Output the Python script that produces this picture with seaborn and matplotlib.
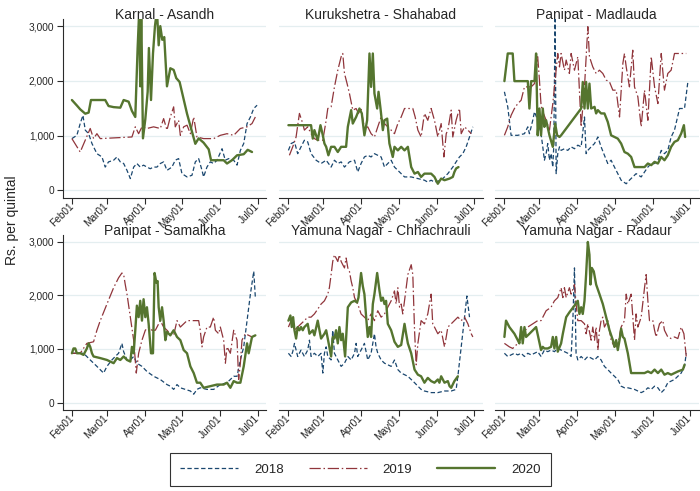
import matplotlib
matplotlib.use("Agg")
import matplotlib.pyplot as plt
from matplotlib.lines import Line2D
import seaborn as sns
import pandas as pd

# ---------------- data (days since Feb 01, price in Rs. per quintal) ----------------
tick_days = [0, 28, 59, 89, 120, 150]
tick_labels = ["Feb01", "Mar01", "Apr01", "May01", "Jun01", "Jul01"]
ytick_vals = [0, 1000, 2000, 3000]
ytick_labels = ["0", "1,000", "2,000", "3,000"]
years = ["2018", "2019", "2020"]
titles = ["Karnal - Asandh", "Kurukshetra - Shahabad", "Panipat - Madlauda",
          "Panipat - Samalkha", "Yamuna Nagar - Chhachrauli", "Yamuna Nagar - Radaur"]

# Karnal - Asandh
asandh_2018_day = [0, 4, 6.7, 8.9, 10.8, 13.5, 16.2, 20.2, 24.3, 26.9, 29.6, 33.7, 36.4, 39.1, 41.8, 44.5, 47.2, 49.9, 52.5, 55.2, 57.9, 60.6, 63.3, 66, 68.7, 71.4, 74.1, 76.8, 80.8, 83.5, 86.2, 88.9, 93, 97, 99.7, 102.4, 105.1, 106.4, 109.1, 111.8, 114.5, 117.2, 121.3, 123.9, 126.7, 130.7, 133.4, 136.1, 138.8, 141.5, 144.2, 146.9, 149.6]
asandh_2018_val = [945, 1005, 1220, 1370, 1100, 1035, 855, 670, 610, 425, 520, 550, 610, 520, 490, 365, 215, 425, 490, 425, 460, 425, 395, 425, 425, 490, 520, 365, 425, 550, 580, 305, 245, 275, 520, 580, 365, 245, 425, 520, 490, 550, 760, 550, 580, 550, 460, 730, 855, 1220, 1340, 1495, 1555]
asandh_2019_day = [0, 6.7, 14.8, 17.5, 20.2, 22.9, 48.5, 51.2, 53.9, 56.6, 60.6, 66, 71.4, 74.1, 76.8, 79.5, 82.2, 83.5, 86.2, 87.6, 90.3, 93, 95.7, 98.4, 101, 106.4, 114.5, 119.9, 125.3, 130.7, 136.1, 141.5, 145.5, 148.2]
asandh_2019_val = [945, 700, 1130, 945, 1035, 945, 975, 1160, 1035, 1160, 1130, 1160, 1130, 1310, 1100, 1340, 1525, 1160, 1280, 1005, 1160, 1190, 1035, 1340, 975, 945, 945, 1005, 1035, 1005, 1130, 1160, 1220, 1340]
asandh_2020_day = [0, 4, 6.7, 10.8, 13.5, 15.4, 26.9, 29.6, 33.7, 39.1, 41.8, 45.8, 48.5, 51.2, 53.1, 54.4, 55.2, 56, 57.4, 59.3, 61.2, 62.2, 63.9, 65.5, 67.1, 68.7, 70.1, 71.4, 73, 74.6, 76.8, 79.5, 82.2, 84.3, 87, 93, 99.7, 102.4, 106.4, 110.5, 112.4, 122.6, 125.3, 129.3, 133.4, 138.8, 142, 145.5]
asandh_2020_val = [1650, 1550, 1480, 1400, 1420, 1650, 1650, 1540, 1520, 1510, 1650, 1620, 1450, 1340, 2600, 3300, 1900, 3300, 950, 1300, 1800, 2600, 1650, 2500, 3000, 3300, 2650, 3000, 2750, 2800, 1900, 2230, 2200, 2050, 1980, 1400, 850, 950, 870, 750, 550, 550, 490, 550, 640, 660, 740, 700]

# Kurukshetra - Shahabad
shahabad_2018_day = [0, 2.2, 4.9, 7.5, 10.2, 12.9, 15.6, 18.3, 22.4, 26.4, 30.5, 34.5, 37.2, 39.9, 42.6, 45.3, 49.3, 53.4, 56, 58.7, 61.4, 64.1, 66.8, 69.5, 72.2, 74.9, 77.6, 80.3, 83, 85.7, 88.4, 91.1, 93.8, 99.2, 104.6, 109.9, 112.6, 115.3, 118, 123.4, 126.1, 128.8, 132.8, 135.5, 138.2, 140.9, 143.6, 146.3, 149]
shahabad_2018_val = [730, 855, 885, 670, 795, 915, 885, 670, 550, 490, 550, 425, 550, 490, 520, 425, 520, 550, 335, 490, 610, 640, 610, 670, 640, 610, 425, 490, 550, 425, 365, 305, 245, 245, 215, 185, 150, 185, 150, 185, 245, 305, 425, 520, 610, 670, 795, 975, 1160]
shahabad_2019_day = [0.8, 3.5, 6.2, 8.9, 11.6, 12.9, 15.6, 18.3, 21, 23.7, 27.8, 30.5, 31.8, 34.5, 37.2, 39.9, 42.6, 43.9, 45.3, 47.4, 49.3, 52, 54.7, 56.6, 58.7, 61.4, 64.1, 66.8, 69.5, 72.2, 74.9, 77.6, 80.3, 83, 85.7, 88.4, 91.1, 93.8, 96.5, 100.5, 102.4, 104.6, 107.2, 109.9, 112.6, 115.3, 118, 120.7, 123.4, 125.6, 127.5, 128.8, 131.5, 132.8, 135.5, 138.2, 139.6, 142.3, 145, 147.7]
shahabad_2019_val = [640, 795, 975, 1405, 1220, 1100, 1160, 1035, 945, 915, 915, 1280, 1495, 1525, 1890, 2195, 2440, 2500, 2135, 1950, 1770, 1465, 1495, 1405, 1495, 1130, 1160, 1035, 975, 1160, 1340, 1220, 1160, 1100, 1035, 1220, 1340, 1495, 1495, 1495, 1340, 1100, 975, 1405, 1280, 1495, 1280, 975, 1220, 610, 1035, 1100, 1465, 975, 1280, 1495, 1035, 1160, 1100, 1035]
shahabad_2020_day = [0, 18.3, 19.7, 21, 23.7, 25.9, 27.8, 29.1, 30.5, 32.3, 34.5, 37.2, 39.9, 42.6, 46.6, 48, 50.7, 52, 54.7, 57.4, 59.3, 61.4, 63.6, 65.5, 66.8, 68.2, 69.5, 71.7, 72.8, 74.4, 76.3, 77.6, 79.8, 81.6, 84.3, 85.7, 88.4, 91.1, 93.8, 96.5, 99.2, 101.9, 104.6, 107.2, 109.9, 115.3, 118, 120.7, 123.4, 126.1, 130.2, 132.8, 134.1, 135.5, 137.4]
shahabad_2020_val = [1190, 1190, 945, 1100, 915, 1190, 1005, 855, 795, 640, 795, 795, 700, 795, 795, 1160, 1465, 1220, 1340, 1495, 1405, 1005, 1280, 2500, 1890, 2500, 1770, 1495, 1800, 1495, 1100, 1280, 1310, 855, 610, 795, 730, 795, 730, 795, 425, 305, 335, 245, 305, 305, 245, 120, 215, 185, 215, 245, 335, 400, 425]

# Panipat - Madlauda
madlauda_2018_day = [0, 2.7, 4, 5.4, 10.8, 16.2, 18.9, 20.2, 22.9, 24.3, 26.9, 29.6, 31, 32.3, 33.7, 35, 36.4, 37.7, 39.1, 39.9, 41, 41.8, 43.1, 44.5, 45.8, 48.5, 51.2, 53.9, 56.6, 59.3, 62, 64.7, 66, 67.4, 70.1, 72.8, 75.5, 78.1, 80.8, 83.5, 86.2, 88.9, 91.6, 94.3, 98.4, 101, 103.7, 106.4, 110.5, 113.2, 115.9, 118.6, 121.3, 124, 126.7, 129.3, 132, 134.7, 137.4, 141.5, 145.5, 148.2]
madlauda_2018_val = [1800, 1525, 1280, 1005, 1005, 1035, 1160, 1035, 1280, 1435, 1280, 1035, 795, 550, 670, 855, 550, 670, 425, 825, 3300, 305, 670, 795, 730, 760, 730, 795, 760, 825, 795, 1340, 670, 730, 795, 855, 975, 795, 640, 490, 550, 425, 305, 185, 120, 185, 245, 305, 245, 335, 425, 490, 490, 550, 730, 670, 730, 975, 1100, 1495, 1495, 1980]
madlauda_2019_day = [0, 2.7, 5.4, 8.1, 10.8, 13.5, 16.2, 18.9, 21.6, 24.3, 26.9, 28.3, 29.6, 31, 33.7, 36.4, 39.1, 41, 43.1, 44.5, 45.8, 48.5, 49.9, 52.5, 53.9, 56.6, 59.3, 62, 64.7, 67.4, 68.7, 71.4, 74.1, 76.8, 79.5, 82.2, 84.9, 87.6, 90.3, 93, 95.7, 97, 98.4, 101, 103.7, 105.1, 107.8, 110.5, 113.2, 115.9, 118.6, 121.3, 124, 126.7, 129.3, 132, 134.7, 137.4, 142.8, 146.9]
madlauda_2019_val = [1005, 1160, 1370, 1495, 1585, 1645, 1890, 1890, 1890, 1950, 2440, 2015, 1555, 1435, 1280, 1100, 1585, 2015, 2500, 2255, 2500, 2195, 2380, 2135, 2500, 2195, 2440, 1160, 1890, 2990, 2440, 2255, 2135, 2195, 2135, 2015, 1980, 1830, 1830, 1340, 2320, 2500, 2255, 1890, 2560, 1890, 1710, 1160, 1830, 1280, 2440, 1890, 1585, 2500, 1830, 2135, 2195, 2500, 2500, 2500]
madlauda_2020_day = [0, 2.7, 6.7, 8.1, 18.9, 20.2, 21.6, 24.3, 25.6, 26.9, 28.3, 29.6, 31, 32.3, 33.7, 36.4, 39.1, 41, 42.6, 44.5, 45.8, 62, 63.3, 64.7, 66, 67.4, 68.7, 70.1, 72.8, 74.1, 75.5, 78.1, 80.8, 83.5, 86.2, 88.9, 91.6, 94.3, 97, 99.7, 102.4, 105.1, 110.5, 113.2, 115.9, 118.6, 121.3, 124, 126.7, 129.3, 132, 134.7, 137.4, 140.1, 142.8, 145, 146]
madlauda_2020_val = [1995, 2500, 2500, 1995, 1995, 1495, 1995, 1995, 2500, 1005, 1495, 1005, 1495, 1160, 1280, 1005, 795, 1220, 1005, 975, 1005, 1495, 1980, 1495, 1980, 1495, 1950, 1495, 1525, 1405, 1465, 1405, 1405, 1250, 1005, 975, 945, 855, 700, 670, 610, 425, 425, 425, 490, 460, 520, 490, 610, 550, 640, 795, 885, 915, 1035, 1190, 975]

# Panipat - Samalkha
samalkha_2018_day = [0, 4, 9.4, 14.8, 20.2, 25.6, 28.3, 32.3, 35, 37.7, 40.4, 41.8, 44.5, 47.2, 49.9, 52.5, 56.6, 60.6, 66, 71.4, 76.8, 79.5, 82.2, 84.9, 87.6, 91.6, 95.7, 98.4, 101, 103.7, 109.1, 114.5, 119.9, 125.3, 130.7, 133.4, 136.1, 138.8, 141.5, 144.2, 146.9, 148.2]
samalkha_2018_val = [920, 920, 920, 795, 675, 550, 675, 795, 860, 920, 1105, 950, 795, 795, 860, 735, 675, 580, 490, 430, 335, 305, 245, 335, 275, 245, 215, 155, 245, 275, 245, 245, 335, 370, 490, 490, 795, 1040, 1530, 2025, 2450, 1960]
samalkha_2019_day = [0, 6.7, 12.1, 17.5, 20.2, 22.9, 28.3, 33.7, 37.7, 40.4, 41.8, 43.1, 44.5, 47.2, 49.9, 52, 53.9, 56.6, 59.3, 62, 64.7, 67.4, 70.1, 71.4, 74.1, 76.8, 79.5, 82.2, 84.9, 87.6, 93, 98.4, 102.4, 103.7, 105.1, 106.4, 109.1, 111.8, 114.5, 115.9, 118.6, 119.9, 122.6, 124, 125.3, 128, 130.7, 133.4, 134.7, 136.1, 137.4, 140.1, 142.8, 145.5]
samalkha_2019_val = [920, 920, 1105, 1135, 1350, 1530, 1840, 2145, 2330, 2420, 2390, 2205, 2025, 1595, 1165, 550, 920, 1165, 1350, 1410, 1350, 1350, 1470, 1530, 1410, 1350, 1285, 1255, 1530, 1410, 1530, 1530, 1530, 1350, 1040, 1225, 1410, 1410, 1595, 1350, 1285, 1410, 1165, 735, 1040, 920, 1350, 1165, 430, 735, 1165, 1285, 1255, 1225]
samalkha_2020_day = [0, 1.3, 2.7, 4, 6.7, 9.4, 12.1, 13.5, 14.8, 16.2, 17.5, 22.9, 28.3, 31, 33.7, 36.4, 39.1, 41.8, 44.5, 47.2, 48.5, 49.9, 51.2, 52.5, 53.9, 55.2, 56.6, 57.9, 59.3, 60.6, 62, 63.9, 65.5, 66.8, 68.2, 69.2, 70.1, 71.4, 72.8, 74.1, 75.5, 76.8, 79.5, 82.2, 84.9, 87.6, 90.3, 93, 95.7, 98.4, 101, 103.7, 106.4, 111.8, 117.2, 122.6, 125.3, 128, 130.7, 133.4, 136.1, 138.8, 141.5, 142.8, 145.5, 148.2]
samalkha_2020_val = [920, 1010, 1010, 920, 920, 890, 1010, 1105, 1040, 920, 860, 830, 795, 765, 735, 830, 795, 860, 795, 765, 1040, 920, 1350, 1810, 1595, 1900, 1530, 1930, 1595, 1780, 1470, 920, 920, 2420, 2240, 2270, 1780, 1530, 1780, 1530, 1165, 1320, 1255, 1350, 1225, 1165, 980, 920, 675, 550, 370, 370, 275, 305, 335, 335, 370, 275, 400, 370, 370, 675, 1105, 920, 1225, 1255]

# Yamuna Nagar - Chhachrauli
chhachrauli_2018_day = [0, 2.2, 3.5, 4.9, 7.5, 10.2, 12.9, 15.6, 17, 18.3, 21, 23.7, 26.4, 27.8, 29.1, 30.5, 31.8, 34.5, 35.8, 37.2, 39.9, 42.6, 45.3, 48, 50.7, 53.4, 54.7, 56, 58.7, 61.4, 64.1, 66.8, 69.5, 70.8, 72.2, 74.9, 77.6, 80.3, 83, 85.7, 88.4, 91.1, 93.8, 96.5, 99.2, 101.9, 104.6, 107.2, 109.9, 115.3, 120.7, 126.1, 131.5, 135.5, 136.9, 139.6, 142.3, 144.2, 146.3]
chhachrauli_2018_val = [920, 860, 950, 1105, 860, 980, 860, 980, 1165, 860, 920, 860, 920, 550, 920, 1040, 860, 795, 1350, 920, 795, 675, 735, 860, 795, 920, 1105, 860, 980, 1105, 795, 920, 1285, 1040, 920, 795, 735, 705, 675, 795, 615, 550, 520, 490, 430, 370, 305, 245, 215, 185, 185, 215, 215, 245, 490, 1040, 1595, 1990, 1595]
chhachrauli_2019_day = [0, 2.2, 4.9, 7.5, 10.2, 12.9, 15.6, 18.3, 21, 23.7, 26.4, 29.1, 31.8, 33.1, 34.5, 35.8, 37.2, 38.5, 39.9, 41.2, 42.6, 43.9, 45.3, 46.6, 48, 49.3, 50.7, 52, 53.4, 56, 58.7, 61.4, 64.1, 66.8, 69.5, 72.2, 74.9, 77.6, 80.3, 83, 85.7, 87, 88.4, 89.8, 91.1, 92.4, 93.8, 96.5, 99.2, 100.5, 101.9, 103.2, 104.6, 107.2, 109.9, 112.6, 115.3, 116.6, 118, 120.7, 123.4, 126.1, 127.5, 128.8, 131.5, 134.1, 136.9, 139.6, 142.3, 145, 147.7, 149]
chhachrauli_2019_val = [1410, 1530, 1350, 1410, 1470, 1530, 1595, 1595, 1655, 1745, 1840, 1900, 2025, 2145, 2390, 2635, 2760, 2700, 2635, 2760, 2635, 2575, 2515, 2700, 2515, 2450, 2270, 2145, 1960, 1840, 1655, 1595, 1530, 1655, 1530, 1715, 1595, 1655, 1780, 1900, 2085, 1840, 2145, 1780, 1840, 1655, 1900, 2390, 2575, 2390, 1350, 705, 1105, 1530, 1470, 1655, 2025, 1470, 1410, 1285, 1350, 1040, 1225, 1410, 1470, 1530, 1595, 1530, 1595, 1470, 1285, 1225]
chhachrauli_2020_day = [0, 1.6, 2.7, 3.8, 4.9, 6.2, 7.5, 8.9, 10.2, 11.6, 12.9, 15.6, 17, 19.7, 21, 23.7, 25.1, 26.4, 29.1, 30.5, 31.8, 34.5, 35.8, 37.2, 38.5, 39.9, 41.2, 42.6, 43.9, 45.8, 48, 50.7, 53.4, 55.5, 56.6, 58.7, 60.1, 61.4, 62.8, 64.1, 65.5, 66.8, 68.2, 69.5, 71.7, 73.6, 74.9, 76.3, 77.6, 78.9, 80.3, 83, 85.7, 88.4, 91.1, 93.8, 95.1, 96.5, 99.2, 101.9, 104.6, 107.2, 109.9, 112.6, 115.3, 118, 120.7, 122, 123.4, 126.1, 128.8, 130.2, 131.5, 134.1, 136.9]
chhachrauli_2020_val = [1530, 1625, 1410, 1595, 1350, 1195, 1410, 1350, 1410, 1350, 1410, 1470, 1285, 1350, 1255, 1530, 1350, 1195, 1285, 1350, 1195, 860, 1225, 1195, 1350, 1105, 1410, 1165, 1285, 860, 1780, 1870, 1900, 1870, 1960, 2420, 2175, 2025, 1595, 1225, 1410, 1225, 1840, 2025, 2420, 2085, 1900, 1960, 1840, 1900, 1470, 1350, 1135, 1040, 1075, 1470, 1285, 1105, 920, 615, 520, 490, 370, 460, 400, 370, 430, 370, 490, 370, 400, 305, 275, 400, 490]

# Yamuna Nagar - Radaur
radaur_2018_day = [0, 2.7, 5.4, 8.1, 10.8, 13.5, 16.2, 18.9, 21.6, 24.3, 26.9, 29.6, 32.3, 35, 37.7, 40.4, 43.1, 45.8, 48.5, 51.2, 53.9, 55.3, 56.6, 57.9, 59.3, 62, 64.7, 67.4, 70.1, 72.8, 75.5, 78.1, 80.8, 83.5, 86.2, 88.9, 91.6, 94.3, 97, 99.7, 105.1, 110.5, 113.2, 115.9, 118.6, 121.3, 124, 126.7, 129.3, 132, 134.7, 137.4, 140.1, 142.8, 145.5, 146.9]
radaur_2018_val = [920, 860, 890, 920, 890, 920, 860, 920, 890, 920, 950, 860, 980, 950, 980, 950, 1010, 980, 950, 920, 860, 1530, 2515, 920, 795, 860, 795, 860, 830, 795, 860, 795, 675, 615, 550, 490, 430, 305, 275, 275, 245, 185, 215, 275, 245, 305, 275, 185, 245, 370, 400, 430, 490, 550, 675, 920]
radaur_2019_day = [0, 4, 6.7, 10.8, 14.8, 18.9, 22.9, 26.9, 29.6, 33.7, 37.7, 40.4, 43.1, 45.8, 47.2, 48.5, 49.9, 52.5, 53.9, 56.6, 57.9, 59.3, 62, 64.7, 66, 67.4, 70.1, 71.4, 72.8, 74.1, 75.5, 76.8, 78.1, 79.5, 80.8, 83.5, 86.2, 88.9, 91.6, 94.3, 97, 98.4, 99.7, 102.4, 105.1, 106.4, 107.8, 110.5, 113.2, 114.5, 115.9, 117.2, 119.9, 121.3, 122.6, 125.3, 128, 129.3, 132, 134.7, 137.4, 140.1, 142.8, 145, 146.9]
radaur_2019_val = [1105, 1040, 1010, 1105, 1285, 1410, 1470, 1530, 1530, 1715, 1780, 1900, 1960, 2145, 1960, 2145, 1960, 2145, 2025, 2205, 1840, 1530, 1530, 1470, 1285, 1470, 1165, 1410, 1165, 1410, 980, 1350, 1530, 1595, 1410, 1530, 1165, 1040, 1075, 1410, 1530, 2025, 1840, 2025, 1165, 1655, 1410, 1595, 2145, 2390, 1900, 1530, 1530, 1350, 1225, 1470, 1530, 1350, 1225, 1195, 1225, 1195, 1410, 1285, 860]
radaur_2020_day = [0, 1.3, 4, 8.1, 10.8, 12.1, 13.5, 14.8, 16.2, 17.5, 20.2, 25.6, 29.6, 31, 32.3, 35, 37.7, 39.1, 40.4, 41.8, 43.1, 45.8, 47.2, 49.9, 52.5, 56.6, 59.3, 60.6, 62, 63.3, 64.7, 66, 67.4, 68.7, 69.5, 70.6, 72.2, 74.1, 76.8, 79.5, 82.2, 84.9, 87.6, 88.9, 90.3, 91.6, 93, 94.3, 95.7, 97, 99.7, 102.4, 107.8, 113.2, 115.9, 118.6, 121.3, 124, 126.7, 129.3, 132, 134.7, 137.4, 140.1, 144.2, 145.5]
radaur_2020_val = [1225, 1530, 1410, 1285, 1165, 1105, 1410, 1105, 1410, 1225, 1285, 1410, 980, 1040, 1010, 1010, 1040, 1225, 1010, 1225, 950, 1105, 1285, 1595, 1685, 1810, 1900, 1655, 1780, 1655, 1900, 2390, 3000, 2760, 2205, 2515, 2450, 2205, 2025, 1840, 1595, 1350, 1165, 1040, 1165, 980, 1165, 1380, 1225, 1195, 920, 550, 550, 550, 580, 550, 615, 550, 615, 520, 550, 520, 550, 580, 615, 705]

series = [
    {"2018": (asandh_2018_day, asandh_2018_val), "2019": (asandh_2019_day, asandh_2019_val), "2020": (asandh_2020_day, asandh_2020_val)},
    {"2018": (shahabad_2018_day, shahabad_2018_val), "2019": (shahabad_2019_day, shahabad_2019_val), "2020": (shahabad_2020_day, shahabad_2020_val)},
    {"2018": (madlauda_2018_day, madlauda_2018_val), "2019": (madlauda_2019_day, madlauda_2019_val), "2020": (madlauda_2020_day, madlauda_2020_val)},
    {"2018": (samalkha_2018_day, samalkha_2018_val), "2019": (samalkha_2019_day, samalkha_2019_val), "2020": (samalkha_2020_day, samalkha_2020_val)},
    {"2018": (chhachrauli_2018_day, chhachrauli_2018_val), "2019": (chhachrauli_2019_day, chhachrauli_2019_val), "2020": (chhachrauli_2020_day, chhachrauli_2020_val)},
    {"2018": (radaur_2018_day, radaur_2018_val), "2019": (radaur_2019_day, radaur_2019_val), "2020": (radaur_2020_day, radaur_2020_val)},
]

# ---------------- styling ----------------
sns.set_theme(style="white")
plt.rcParams['font.family'] = ['Liberation Sans', 'DejaVu Sans']

palette = {"2018": "#1a476f", "2019": "#90353b", "2020": "#55752f"}
dash_map = {"2018": (3.5, 2.0), "2019": (9, 2.2, 1.2, 2.2), "2020": ""}
width_map = {"2018": 0.9, "2019": 0.9, "2020": 1.7}

W, H = 700, 491
fig = plt.figure(figsize=(W / 100, H / 100), dpi=100)
lefts = [62.5, 279.0, 495.0]
axw = 203.5
rows = [(19.0, 198.0), (235.0, 410.0)]
spine_col = "#2b2b2b"

for i, (title, data) in enumerate(zip(titles, series)):
    r, c = divmod(i, 3)
    top, bot = rows[r]
    ax = fig.add_axes([lefts[c] / W, 1 - bot / H, axw / W, (bot - top) / H])
    frames = []
    for yr in years:
        d, v = data[yr]
        frames.append(pd.DataFrame({"day": d, "price": v, "year": yr}))
    df = pd.concat(frames, ignore_index=True)
    sns.lineplot(data=df, x="day", y="price", hue="year", style="year", size="year",
                 hue_order=years, style_order=years, size_order=years,
                 palette=palette, dashes=dash_map, sizes=width_map,
                 estimator=None, sort=False, legend=False, ax=ax)
    ax.set_xlim(-7.6, 156.8)
    ax.set_ylim(-140, 3130)
    ax.set_xlabel("")
    ax.set_ylabel("")
    ax.set_yticks(ytick_vals)
    ax.set_xticks(tick_days)
    ax.set_xticklabels(tick_labels, rotation=45, ha="right", va="center",
                       rotation_mode="anchor", fontsize=7.3)
    ax.yaxis.grid(True, color="#e4eef0", linewidth=0.9)
    ax.xaxis.grid(False)
    ax.set_axisbelow(True)
    for s in ["top", "right"]:
        ax.spines[s].set_visible(False)
    ax.spines["bottom"].set_color(spine_col)
    ax.spines["bottom"].set_linewidth(0.8)
    ax.tick_params(axis="x", direction="out", length=4, width=0.8, color=spine_col, pad=1,
                   bottom=True)
    if c == 0:
        ax.spines["left"].set_color(spine_col)
        ax.spines["left"].set_linewidth(0.8)
        ax.set_yticklabels(ytick_labels, fontsize=7.3)
        ax.tick_params(axis="y", direction="out", length=4, width=0.8, color=spine_col,
                       pad=2, left=True)
    else:
        ax.spines["left"].set_visible(False)
        ax.tick_params(axis="y", left=False, labelleft=False)
    ax.set_title(title, fontsize=10, pad=0.3)

fig.text(12 / W, 1 - 220 / H, "Rs. per quintal", rotation=90, ha="center", va="center",
         fontsize=10)

handles = []
for yr in years:
    ln = Line2D([], [], color=palette[yr], linewidth=width_map[yr])
    if dash_map[yr]:
        ln.set_dashes(dash_map[yr])
    handles.append(ln)
leg = fig.legend(handles, years, loc="center", bbox_to_anchor=(360.5 / W, 1 - 469.5 / H),
                 ncol=3, frameon=True, fancybox=False, edgecolor="black", fontsize=9.5,
                 handlelength=4.4, handletextpad=1.2, columnspacing=1.9, borderpad=0.8)
leg.get_frame().set_linewidth(0.8)

fig.savefig("out.png", dpi=100)
